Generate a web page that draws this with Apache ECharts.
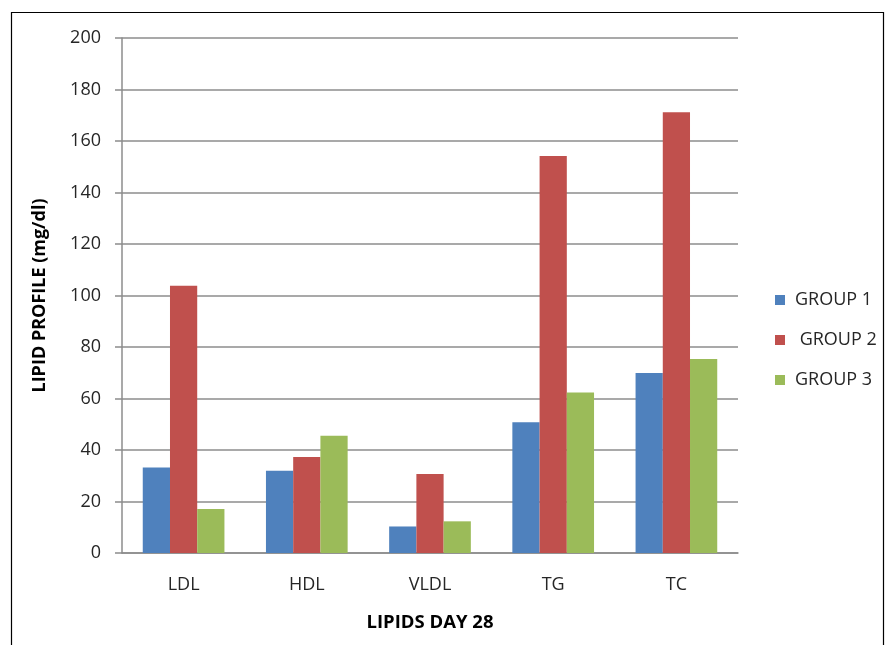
<!DOCTYPE html>
<html>
<head>
<meta charset="utf-8">
<style>
  html, body { margin: 0; padding: 0; background: #ffffff; }
  #chart { width: 889px; height: 645px; }
</style>
<script src="https://cdn.jsdelivr.net/npm/echarts@6/dist/echarts.min.js"></script>
</head>
<body>
<div id="chart"></div>
<script>
// Lipid profile on day 28, in mg/dl
const categories = ['LDL', 'HDL', 'VLDL', 'TG', 'TC'];
const group1 = [33.2, 31.9, 10.3, 50.8, 69.9];
const group2 = [103.8, 37.3, 30.7, 154.2, 171.2];
const group3 = [17.1, 45.5, 12.3, 62.3, 75.3];
const seriesNames = ['GROUP 1', 'GROUP 2', 'GROUP 3'];
const yTicks = { min: 0, max: 200, interval: 20 };

const chart = echarts.init(document.getElementById('chart'), null, { renderer: 'canvas' });

const font = 'Open Sans, Liberation Sans, sans-serif';
const textColor = '#262626';
const lineColor = '#8c8c8c';

const barSeries = (name, data, color) => ({
  name: name,
  type: 'bar',
  data: data,
  barGap: '0%',
  barCategoryGap: '33.7%',
  itemStyle: { color: color },
  emphasis: { disabled: true }
});

chart.setOption({
  animation: false,
  backgroundColor: '#ffffff',
  graphic: [{
    type: 'rect',
    left: 9,
    top: 10,
    shape: { width: 872, height: 660 },
    style: { fill: 'none', stroke: '#000000', lineWidth: 1.2 },
    silent: true
  }],
  grid: { left: 122, right: 151, top: 38, bottom: 92 },
  legend: {
    orient: 'vertical',
    left: 770,
    top: 285,
    itemWidth: 10,
    itemHeight: 10,
    itemGap: 20,
    icon: 'rect',
    data: seriesNames,
    formatter: name => name === 'GROUP 2' ? ' ' + name : name,
    textStyle: { fontFamily: font, fontSize: 18, color: textColor, lineHeight: 20, padding: [0, 0, 0, 5] }
  },
  xAxis: {
    type: 'category',
    data: categories,
    name: 'LIPIDS DAY 28',
    nameLocation: 'middle',
    nameGap: 60,
    nameTextStyle: { fontFamily: font, fontSize: 18.5, fontWeight: 'bold', color: '#000000' },
    axisLine: { lineStyle: { color: lineColor, width: 1.5 } },
    axisTick: { show: false },
    axisLabel: { fontFamily: font, fontSize: 18, color: textColor, margin: 23 },
    splitLine: { show: false }
  },
  yAxis: {
    type: 'value',
    min: yTicks.min,
    max: yTicks.max,
    interval: yTicks.interval,
    name: 'LIPID PROFILE (mg/dl)',
    nameLocation: 'middle',
    nameGap: 73,
    nameTextStyle: { fontFamily: font, fontSize: 18, fontWeight: 'bold', color: '#000000' },
    axisLine: { show: true, lineStyle: { color: lineColor, width: 1.5 } },
    axisTick: { show: true, inside: false, length: 7, lineStyle: { color: lineColor, width: 1.5 } },
    axisLabel: { fontFamily: font, fontSize: 18, color: textColor, margin: 21 },
    splitLine: { show: true, lineStyle: { color: lineColor, width: 1.5 } }
  },
  series: [
    barSeries(seriesNames[0], group1, '#4F81BD'),
    barSeries(seriesNames[1], group2, '#C0504D'),
    barSeries(seriesNames[2], group3, '#9BBB59')
  ]
});
</script>
</body>
</html>
